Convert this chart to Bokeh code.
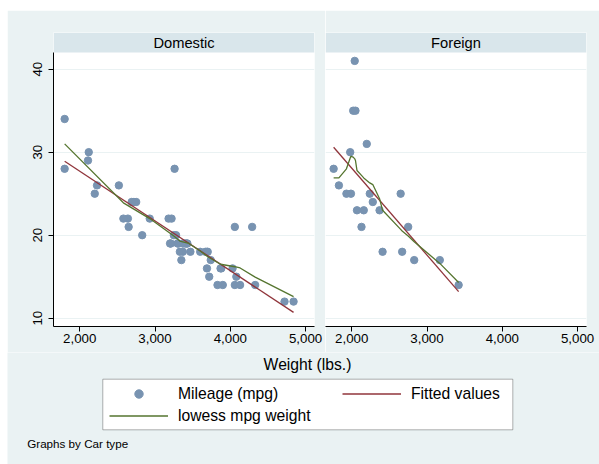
from bokeh.plotting import figure
from bokeh.layouts import row, column, Spacer
from bokeh.models import (Range1d, FixedTicker, BoxAnnotation, Label, Grid, Legend,
                          LegendItem, NumeralTickFormatter)
from bokeh.embed import file_html
from bokeh.resources import INLINE
from bokeh.core.properties import value

# ---------------- data ----------------
dom_weight = [2930, 3350, 2640, 3250, 4080, 3670, 2230, 3280, 3880, 3400,
              4330, 3900, 4290, 2110, 3690, 3180, 3220, 2750, 3430, 2120,
              3600, 3870, 3740, 1800, 2650, 4840, 4720, 3830, 2580, 4060,
              3720, 3370, 4130, 2830, 4060, 3310, 3300, 3690, 3370, 2720,
              4030, 3260, 1800, 2200, 2520, 3330, 3700, 3470, 3210, 3200,
              3420, 2690]
dom_mpg = [22, 17, 22, 20, 15, 18, 26, 20, 16, 19,
           14, 14, 21, 29, 16, 22, 22, 24, 19, 30,
           18, 16, 17, 28, 21, 12, 12, 14, 22, 14,
           15, 18, 14, 20, 21, 19, 19, 18, 19, 24,
           16, 28, 34, 25, 26, 18, 18, 18, 19, 19,
           19, 24]
for_weight = [2830, 2070, 2650, 2370, 2020, 2280, 2750, 2130, 2240, 1760,
              1980, 3420, 1830, 2050, 2410, 2200, 2670, 2160, 2040, 1930,
              1990, 3170]
for_mpg = [17, 23, 25, 23, 35, 24, 21, 21, 25, 28,
           30, 14, 26, 35, 18, 31, 18, 23, 41, 25,
           25, 17]

dom_fit_x = [1800, 4840]
dom_fit_y = [28.9, 10.7]
for_fit_x = [1760, 3420]
for_fit_y = [30.6, 13.2]

dom_low_x = [1800, 2580, 2930, 3250, 3330, 3450, 3600, 3700, 3870, 4060, 4130, 4330, 4840]
dom_low_y = [31.0, 23.9, 22.0, 19.9, 19.3, 19.0, 18.1, 17.4, 16.5, 16.2, 16.05, 14.95, 12.6]
for_low_x = [1760, 1830, 1930, 1980, 1990, 2020, 2040, 2050, 2070, 2130, 2160,
             2200, 2240, 2280, 2370, 2410, 2650, 2670, 2750, 2830, 3170, 3420]
for_low_y = [26.9, 26.9, 28.0, 29.3, 29.5, 29.4, 29.2, 29.0, 27.8, 27.2, 26.9,
             26.6, 26.3, 26.1, 24.4, 23.0, 20.7, 20.5, 19.9, 19.2, 16.6, 14.3]

x_ticks = [2000, 3000, 4000, 5000]
y_ticks = [10, 20, 30, 40]
panel_titles = ["Domestic", "Foreign"]
series_labels = ["Mileage (mpg)", "Fitted values", "lowess mpg weight"]
x_title = "Weight (lbs.)"
note = "Graphs by Car type"

# ---------------- style ----------------
FONT = "Liberation Sans"
BG = "#EAF2F3"
STRIP = "#D9E6EB"
DOT = "#7893B1"
RED = "#90353B"
GREEN = "#55752F"
XR = (1652, 5118)
YR = (9.0, 44.42)
STRIP_BOTTOM = 42.01


def panel(title, xs, ys, fx, fy, lx, ly, left_axis, width, bl, br):
    p = figure(width=width, height=342, output_backend="svg", toolbar_location=None,
               x_range=Range1d(*XR), y_range=Range1d(*YR),
               y_axis_location="left" if left_axis else None,
               min_border_left=bl, min_border_right=br, min_border_top=22,
               min_border_bottom=26)
    p.background_fill_color = "white"
    p.border_fill_color = BG
    p.outline_line_color = None
    p.xgrid.visible = False
    for g in p.ygrid:
        g.visible = False
    p.add_layout(Grid(dimension=1, ticker=FixedTicker(ticks=y_ticks),
                      grid_line_color=BG, grid_line_width=1))
    p.add_layout(BoxAnnotation(bottom=STRIP_BOTTOM, fill_color=STRIP, fill_alpha=1,
                               line_color=None, level="underlay"))
    p.add_layout(Label(x=(XR[0] + XR[1]) / 2, y=(STRIP_BOTTOM + YR[1]) / 2, text=title,
                       text_align="center", text_baseline="middle",
                       text_font_size="14.7px", text_font=FONT, text_color="black"))
    ax = p.xaxis[0]
    ax.ticker = FixedTicker(ticks=x_ticks)
    ax.formatter = NumeralTickFormatter(format="0,0")
    axes = [ax]
    if left_axis:
        ay = p.yaxis[0]
        ay.ticker = FixedTicker(ticks=y_ticks)
        ay.bounds = (YR[0], STRIP_BOTTOM)
        ay.major_label_orientation = "vertical"
        ay.major_label_standoff = 6
        axes.append(ay)
    ax.major_label_standoff = 2
    for a in axes:
        a.axis_line_color = "black"
        a.axis_line_width = 1
        a.major_tick_line_color = "black"
        a.major_tick_out = 5
        a.major_tick_in = 0
        a.minor_tick_line_color = None
        a.major_label_text_font = FONT
        a.major_label_text_font_size = "13.3px"
        a.major_label_text_color = "black"
    p.scatter(xs, ys, size=7.4, fill_color=DOT, line_color=DOT)
    p.line(fx, fy, line_color=RED, line_width=1.3)
    p.line(lx, ly, line_color=GREEN, line_width=1.3)
    return p


# page pixel layout: white margin 7px left, 10px top, then the graph region
p1 = panel(panel_titles[0], dom_weight, dom_mpg, dom_fit_x, dom_fit_y,
           dom_low_x, dom_low_y, True, 318, 46, 11)
p2 = panel(panel_titles[1], for_weight, for_mpg, for_fit_x, for_fit_y,
           for_low_x, for_low_y, False, 274, 0, 13)

# bottom strip: x title, legend, note (page pixel coordinates)
p3 = figure(width=592, height=112, output_backend="svg", toolbar_location=None,
            x_range=Range1d(7, 599), y_range=Range1d(464, 352),
            x_axis_location=None, y_axis_location=None, min_border=0)
p3.background_fill_color = BG
p3.border_fill_color = BG
p3.outline_line_color = None
p3.grid.visible = False

p3.text(x=[307], y=[363.5], text=[x_title], text_align="center", text_baseline="middle",
        text_font=value(FONT), text_font_size="15.7px", text_color="black")
p3.text(x=[26.7], y=[443.3], text=[note], text_align="left", text_baseline="middle",
        text_font=value(FONT), text_font_size="11.65px", text_color="black")

p3.add_layout(BoxAnnotation(left=102.3, right=512.3, top=378.7, bottom=429.3,
                            fill_color="white", fill_alpha=1, line_color="black",
                            line_width=1))

# legend proxies (same series; they fall outside this strip's visible range)
r_sc = p3.scatter(for_weight, for_mpg, size=8, fill_color=DOT, line_color=DOT)
r_fit = p3.line(dom_fit_x, dom_fit_y, line_color=RED, line_width=1.3)
r_low = p3.line(dom_low_x, dom_low_y, line_color=GREEN, line_width=1.3)

common = dict(orientation="vertical", glyph_width=59, glyph_height=21, label_height=21,
              label_standoff=10, spacing=1, padding=0, margin=0,
              border_line_color=None, background_fill_alpha=0,
              label_text_font=FONT, label_text_font_size="15.7px",
              label_text_color="black")
legA = Legend(items=[LegendItem(label=value(series_labels[0]), renderers=[r_sc]),
                     LegendItem(label=value(series_labels[2]), renderers=[r_low])],
              location=(102, 38), **common)
legB = Legend(items=[LegendItem(label=value(series_labels[1]), renderers=[r_fit])],
              location=(335, 60), **common)
p3.add_layout(legA)
p3.add_layout(legB)

layout = column(Spacer(width=599, height=10),
                row(Spacer(width=7, height=454), column(row(p1, p2), p3)))
open("out.html", "w").write(file_html(layout, INLINE))
